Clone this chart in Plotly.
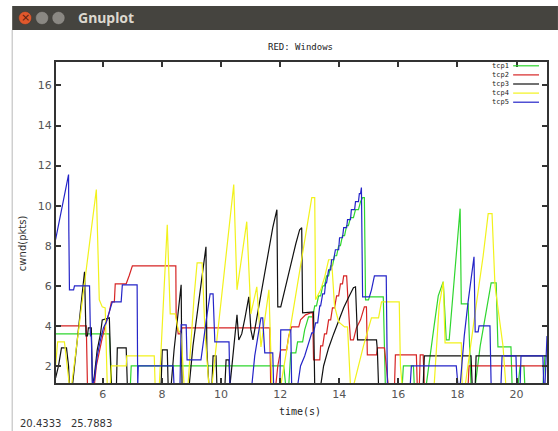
import plotly.graph_objects as go

# ---------------- data (time in s, cwnd in pkts) ----------------
series_names = ["tcp1", "tcp2", "tcp3", "tcp4", "tcp5"]
series_colors = ["#2fd62f", "#d62424", "#111111", "#f2f21c", "#2424c8"]

tcp1_t = [4.40, 6.22, 6.29, 6.93, 6.96, 12.12, 12.19, 12.29, 12.36, 12.53, 12.59, 12.76, 12.83, 12.96, 13.10,
          13.17, 13.23, 13.30, 13.37, 13.44, 13.50, 13.57, 13.64, 13.71, 13.77, 13.84, 13.91, 13.98, 14.04,
          14.11, 14.18, 14.25, 14.31, 14.38, 14.48, 14.55, 14.65, 14.72, 14.79, 14.85, 14.89, 14.99, 15.02,
          15.49, 15.56, 16.13, 16.17, 16.51, 16.54, 16.94, 17.21, 17.35, 17.52, 17.62, 17.72, 17.89, 18.09,
          18.13, 18.36, 18.46, 18.60, 18.77, 18.97, 19.14, 19.31, 19.37, 19.81, 19.85, 20.05, 20.12, 20.25,
          20.28, 20.89, 20.96, 21.03]
tcp1_v = [3.6, 3.6, 1.0, 1.0, 2.0, 2.0, 1.0, 1.0, 2.65, 2.65, 3.2, 3.2, 3.8, 4.45, 4.45,
          5.0, 5.0, 5.5, 5.5, 6.0, 6.0, 6.5, 6.5, 7.0, 7.0, 7.5, 7.5, 8.0, 8.0,
          8.5, 8.5, 9.0, 9.0, 9.4, 9.4, 9.8, 9.8, 10.2, 10.4, 10.4, 5.3, 5.3, 5.45,
          5.45, 1.0, 1.0, 2.0, 2.0, 1.0, 1.0, 4.0, 5.5, 6.2, 3.3, 3.3, 6.5, 9.85,
          5.1, 5.1, 1.0, 1.0, 3.0, 4.8, 6.15, 6.15, 2.95, 2.95, 1.0, 1.0, 2.0, 2.0,
          1.0, 1.0, 2.5, 2.5]

tcp2_t = [4.40, 5.44, 5.48, 5.71, 5.78, 5.88, 5.98, 6.08, 6.22, 6.29, 6.39, 6.42, 6.79, 6.89, 7.00,
          8.47, 8.48, 8.55, 8.61, 8.68, 11.65, 11.68, 11.85, 11.92, 12.02, 12.22, 12.29, 12.39, 12.63,
          12.69, 12.86, 13.03, 13.10, 13.13, 13.27, 13.34, 13.37, 13.44, 13.50, 13.57, 13.64, 13.71, 13.77,
          13.84, 13.91, 13.98, 14.04, 14.11, 14.15, 14.25, 14.31, 14.38, 14.48, 14.58, 14.72, 14.85, 14.92,
          14.95, 15.26, 15.29, 15.53, 15.66, 15.87, 15.90, 16.61, 16.64, 16.71, 16.74, 16.84, 16.88, 18.36,
          18.39, 21.03]
tcp2_v = [4.0, 4.0, 1.0, 1.0, 2.0, 2.8, 3.4, 4.0, 4.7, 5.2, 5.2, 6.1, 6.1, 6.5, 7.0,
          7.0, 4.5, 3.6, 3.6, 3.9, 3.9, 1.0, 1.0, 2.0, 2.8, 2.8, 3.5, 3.95, 3.95,
          4.3, 4.55, 4.65, 4.65, 2.3, 2.3, 2.3, 3.0, 3.0, 3.6, 3.6, 4.3, 4.3, 4.9,
          4.9, 5.5, 5.5, 6.1, 6.1, 6.5, 6.5, 4.9, 3.3, 3.3, 3.9, 4.3, 4.95, 4.95,
          2.55, 2.55, 2.9, 2.9, 1.0, 1.0, 2.55, 2.55, 1.0, 1.0, 2.55, 2.55, 1.0, 1.0,
          2.0, 2.0]

tcp3_t = [4.40, 4.50, 4.60, 4.77, 4.84, 4.87, 4.97, 5.04, 5.11, 5.17, 5.24, 5.31, 5.38, 5.43, 5.48,
          5.51, 5.61, 5.65, 5.71, 5.81, 5.92, 5.98, 6.22, 6.29, 6.46, 6.49, 6.79, 6.83, 7.97, 8.01,
          8.18, 8.21, 8.31, 8.41, 8.51, 8.65, 8.68, 8.92, 9.05, 9.19, 9.36, 9.49, 9.52, 9.59, 9.69,
          9.73, 9.83, 9.86, 10.13, 10.17, 10.27, 10.30, 10.37, 10.54, 10.60, 10.70, 10.81, 10.94, 11.01,
          11.08, 11.21, 11.35, 11.48, 11.62, 11.75, 11.89, 11.92, 12.02, 12.12, 12.26, 12.39, 12.53, 12.66,
          12.73, 12.76, 13.13, 13.17, 13.37, 13.47, 13.64, 13.81, 13.98, 14.15, 14.31, 14.48, 14.55, 14.62,
          15.26, 15.29, 15.33, 16.84, 16.88, 18.46, 18.50, 18.60, 18.63, 21.03]
tcp3_v = [1.4, 2.0, 2.9, 2.9, 2.0, 1.0, 1.0, 2.0, 3.0, 3.9, 4.8, 5.8, 6.7, 3.5, 3.5,
          3.9, 3.9, 1.0, 1.5, 2.8, 3.6, 4.3, 4.4, 1.0, 1.0, 2.9, 2.9, 1.0, 1.0, 2.8,
          2.8, 1.0, 1.0, 2.8, 4.3, 6.05, 1.0, 1.0, 3.0, 4.7, 6.5, 7.95, 2.8, 1.0, 1.0,
          2.5, 2.5, 1.0, 1.0, 2.3, 2.3, 1.0, 2.0, 4.55, 3.3, 3.6, 4.4, 5.45, 3.8,
          3.3, 4.4, 5.6, 6.8, 7.9, 8.9, 9.8, 4.95, 4.95, 5.6, 6.5, 7.3, 8.1, 8.8,
          8.9, 4.65, 4.7, 1.0, 1.0, 2.0, 2.9, 3.6, 4.3, 4.9, 5.4, 5.9, 5.95, 3.3,
          3.3, 2.8, 1.0, 1.0, 2.5, 2.5, 1.0, 1.0, 2.5, 2.5]

tcp4_t = [4.40, 4.47, 4.70, 4.80, 4.87, 4.94, 5.78, 5.88, 5.98, 6.08, 6.15, 6.25, 6.29, 6.79, 6.81,
          7.74, 7.77, 7.91, 8.18, 8.28, 8.45, 8.55, 8.65, 8.75, 8.88, 9.09, 9.19, 9.36, 9.46, 9.59,
          9.69, 10.43, 10.54, 10.87, 11.01, 11.21, 11.35, 11.62, 11.72, 12.02, 13.07, 13.17, 13.20, 13.37,
          13.50, 13.64, 13.74, 13.84, 13.98, 14.18, 14.28, 14.38, 14.48, 14.82, 15.09, 15.33, 15.39, 15.43,
          16.03, 16.07, 16.13, 17.21, 17.38, 17.52, 17.58, 18.13, 18.16, 18.26, 18.63, 18.87, 19.04, 19.17,
          19.27, 19.37, 19.54, 19.64, 21.03]
tcp4_v = [2.0, 3.2, 3.2, 2.0, 1.0, 1.0, 10.8, 5.3, 4.95, 4.9, 1.0, 1.0, 2.0, 2.0, 2.5,
          2.5, 1.0, 1.0, 9.05, 4.6, 4.6, 3.8, 3.6, 1.0, 1.0, 5.5, 7.15, 7.15, 3.6, 1.0,
          1.0, 11.05, 5.8, 9.2, 4.6, 5.95, 2.95, 5.8, 1.0, 1.0, 10.4, 10.4, 5.3, 5.8,
          6.4, 7.3, 7.3, 5.0, 4.2, 3.95, 3.95, 1.0, 1.0, 3.0, 4.4, 4.4, 5.0, 5.2,
          5.2, 2.0, 1.0, 1.0, 5.0, 6.2, 3.15, 3.15, 1.0, 1.0, 5.0, 7.5, 9.6, 9.6,
          6.0, 4.8, 3.0, 1.0, 1.0]

tcp5_t = [4.40, 4.84, 4.85, 4.87, 5.01, 5.04, 5.55, 5.58, 5.61, 5.65, 5.71, 5.81, 5.92, 6.02, 6.12,
          6.22, 6.32, 6.62, 6.66, 7.16, 7.18, 7.20, 8.38, 8.41, 8.61, 8.65, 8.82, 8.85, 9.32, 9.42,
          9.52, 9.63, 9.73, 9.79, 10.27, 10.30, 11.04, 11.14, 11.24, 11.35, 11.41, 11.48, 11.75, 11.78,
          11.99, 12.02, 12.36, 12.39, 12.59, 12.69, 12.83, 12.96, 13.07, 13.13, 13.20, 13.27, 13.34, 13.37,
          13.44, 13.50, 13.54, 13.57, 13.64, 13.71, 13.74, 13.81, 13.87, 13.98, 14.01, 14.11, 14.15, 14.25,
          14.28, 14.38, 14.41, 14.52, 14.55, 14.65, 14.68, 14.72, 14.75, 14.79, 15.02, 15.09, 15.19, 15.59,
          15.63, 16.40, 16.44, 17.96, 18.02, 18.09, 18.23, 18.36, 18.50, 18.56, 18.60, 18.70, 18.73, 19.10,
          19.14, 19.47, 19.51, 19.98, 20.01, 20.12, 20.15, 20.89, 20.92, 20.96, 21.03]
tcp5_v = [8.3, 11.55, 8.7, 5.8, 5.8, 6.0, 6.0, 3.5, 3.5, 1.0, 1.3, 2.5, 3.3, 3.9, 4.2,
          4.7, 5.2, 5.2, 6.05, 6.05, 1.0, 2.0, 2.0, 1.0, 1.0, 4.05, 4.05, 2.3, 2.3, 3.5,
          4.5, 5.6, 5.6, 3.2, 3.2, 1.0, 1.0, 2.5, 3.5, 4.4, 4.4, 2.65, 2.65, 1.0,
          1.0, 3.8, 3.8, 1.0, 1.0, 2.0, 2.5, 3.1, 3.65, 3.65, 4.15, 4.15, 5.0, 5.0,
          5.6, 5.6, 6.15, 6.15, 6.8, 6.8, 7.3, 7.3, 7.8, 7.8, 8.4, 8.4, 8.9, 8.9,
          9.3, 9.3, 9.8, 9.8, 10.2, 10.2, 10.6, 10.6, 10.9, 5.45, 5.45, 5.8, 6.5, 6.5,
          1.0, 1.0, 2.0, 2.0, 1.0, 1.0, 3.5, 5.2, 6.7, 7.45, 3.7, 3.7, 4.0, 4.0,
          1.0, 1.0, 2.5, 2.5, 1.0, 1.0, 2.5, 2.5, 1.0, 1.0, 3.5]

x_ticks = [6, 8, 10, 12, 14, 16, 18, 20]
y_ticks = [2, 4, 6, 8, 10, 12, 14, 16]
x_range = [4.415, 21.03]
y_range = [1.15, 17.17]

chart_title = "RED: Windows"
x_label = "time(s)"
y_label = "cwnd(pkts)"
mouse_text = "20.4333   25.7883"
window_title = "Gnuplot"

# ---------------- layout geometry ----------------
W, H = 558, 431
ML, MR, MT, MB = 56, 9, 62, 48
PW, PH = W - ML - MR, H - MT - MB


def px(x):
    return (x - ML) / PW


def py(y):
    return (H - MB - y) / PH


fig = go.Figure()
all_t = [tcp1_t, tcp2_t, tcp3_t, tcp4_t, tcp5_t]
all_v = [tcp1_v, tcp2_v, tcp3_v, tcp4_v, tcp5_v]
for name, color, t, v in zip(series_names, series_colors, all_t, all_v):
    fig.add_trace(go.Scatter(x=t, y=v, mode="lines", name=name,
                             line=dict(color=color, width=1.2), showlegend=False))

mono = "DejaVu Sans Mono"
shapes = []
annotations = []

# window chrome
shapes.append(dict(type="rect", xref="paper", yref="paper", x0=px(12), x1=px(560), y0=py(30), y1=py(6),
                   fillcolor="#45443f", line=dict(width=0), layer="above"))
shapes.append(dict(type="line", xref="paper", yref="paper", x0=px(12), x1=px(12), y0=py(30), y1=py(433),
                   line=dict(color="#b8b8b8", width=1)))
for cx, col in [(25, "#e0582c"), (42, "#8a8883"), (58.5, "#8a8883")]:
    shapes.append(dict(type="circle", xref="paper", yref="paper", x0=px(cx - 6.5), x1=px(cx + 6.5),
                       y0=py(24.5), y1=py(11.5), fillcolor=col, line=dict(color="#3a3935", width=0.5),
                       layer="above"))
annotations.append(dict(text="×", x=px(25), y=py(18), xref="paper", yref="paper", showarrow=False,
                        font=dict(family="DejaVu Sans", size=11, color="#5a2010"),
                        xanchor="center", yanchor="middle"))
annotations.append(dict(text="<b>" + window_title + "</b>", x=px(76), y=py(18), xref="paper", yref="paper",
                        showarrow=False, font=dict(family="Noto Sans", size=14, color="#dcd8cf"),
                        xanchor="left", yanchor="middle"))

# chart texts
annotations.append(dict(text=chart_title, x=px(301), y=py(47), xref="paper", yref="paper", showarrow=False,
                        font=dict(family=mono, size=9, color="#222222"), xanchor="center", yanchor="middle"))
annotations.append(dict(text=x_label, x=px(301), y=py(411), xref="paper", yref="paper", showarrow=False,
                        font=dict(family=mono, size=10, color="#222222"), xanchor="center", yanchor="middle"))
annotations.append(dict(text=y_label, x=px(23), y=py(243), xref="paper", yref="paper", showarrow=False,
                        textangle=-90, font=dict(family="DejaVu Sans", size=10, color="#333333"),
                        xanchor="center", yanchor="middle"))
annotations.append(dict(text=mouse_text, x=px(18), y=py(423), xref="paper", yref="paper", showarrow=False,
                        font=dict(family="DejaVu Sans", size=10, color="#333333"), xanchor="left",
                        yanchor="middle"))

# manual gnuplot-style key: one multi-line text block plus sample lines
key_font = 7
key_step = key_font * 1.3
key_center = 84
annotations.append(dict(text="<br>".join(series_names), x=px(512), y=py(key_center), xref="paper",
                        yref="paper", showarrow=False, align="right",
                        font=dict(family=mono, size=key_font, color="#222222"), xanchor="right",
                        yanchor="middle", borderpad=0))
for i, color in enumerate(series_colors):
    yy = key_center + (i - 2) * key_step
    shapes.append(dict(type="line", xref="paper", yref="paper", x0=px(515), x1=px(541), y0=py(yy), y1=py(yy),
                       line=dict(color=color, width=1.2)))

axis_common = dict(showline=True, linecolor="#333333", linewidth=2, mirror="ticks", ticks="inside",
                   ticklen=5, tickwidth=1.5, tickcolor="#333333", showgrid=False, zeroline=False,
                   tickfont=dict(family="DejaVu Sans", size=11, color="#555555"))

fig.update_layout(
    width=W, height=H, autosize=False,
    margin=dict(l=ML, r=MR, t=MT, b=MB, pad=0),
    paper_bgcolor="white", plot_bgcolor="white",
    xaxis=dict(range=x_range, tickvals=x_ticks, **axis_common),
    yaxis=dict(range=y_range, tickvals=y_ticks, **axis_common),
    shapes=shapes, annotations=annotations, showlegend=False,
)

fig.write_html("out.html", config={"displayModeBar": False})
